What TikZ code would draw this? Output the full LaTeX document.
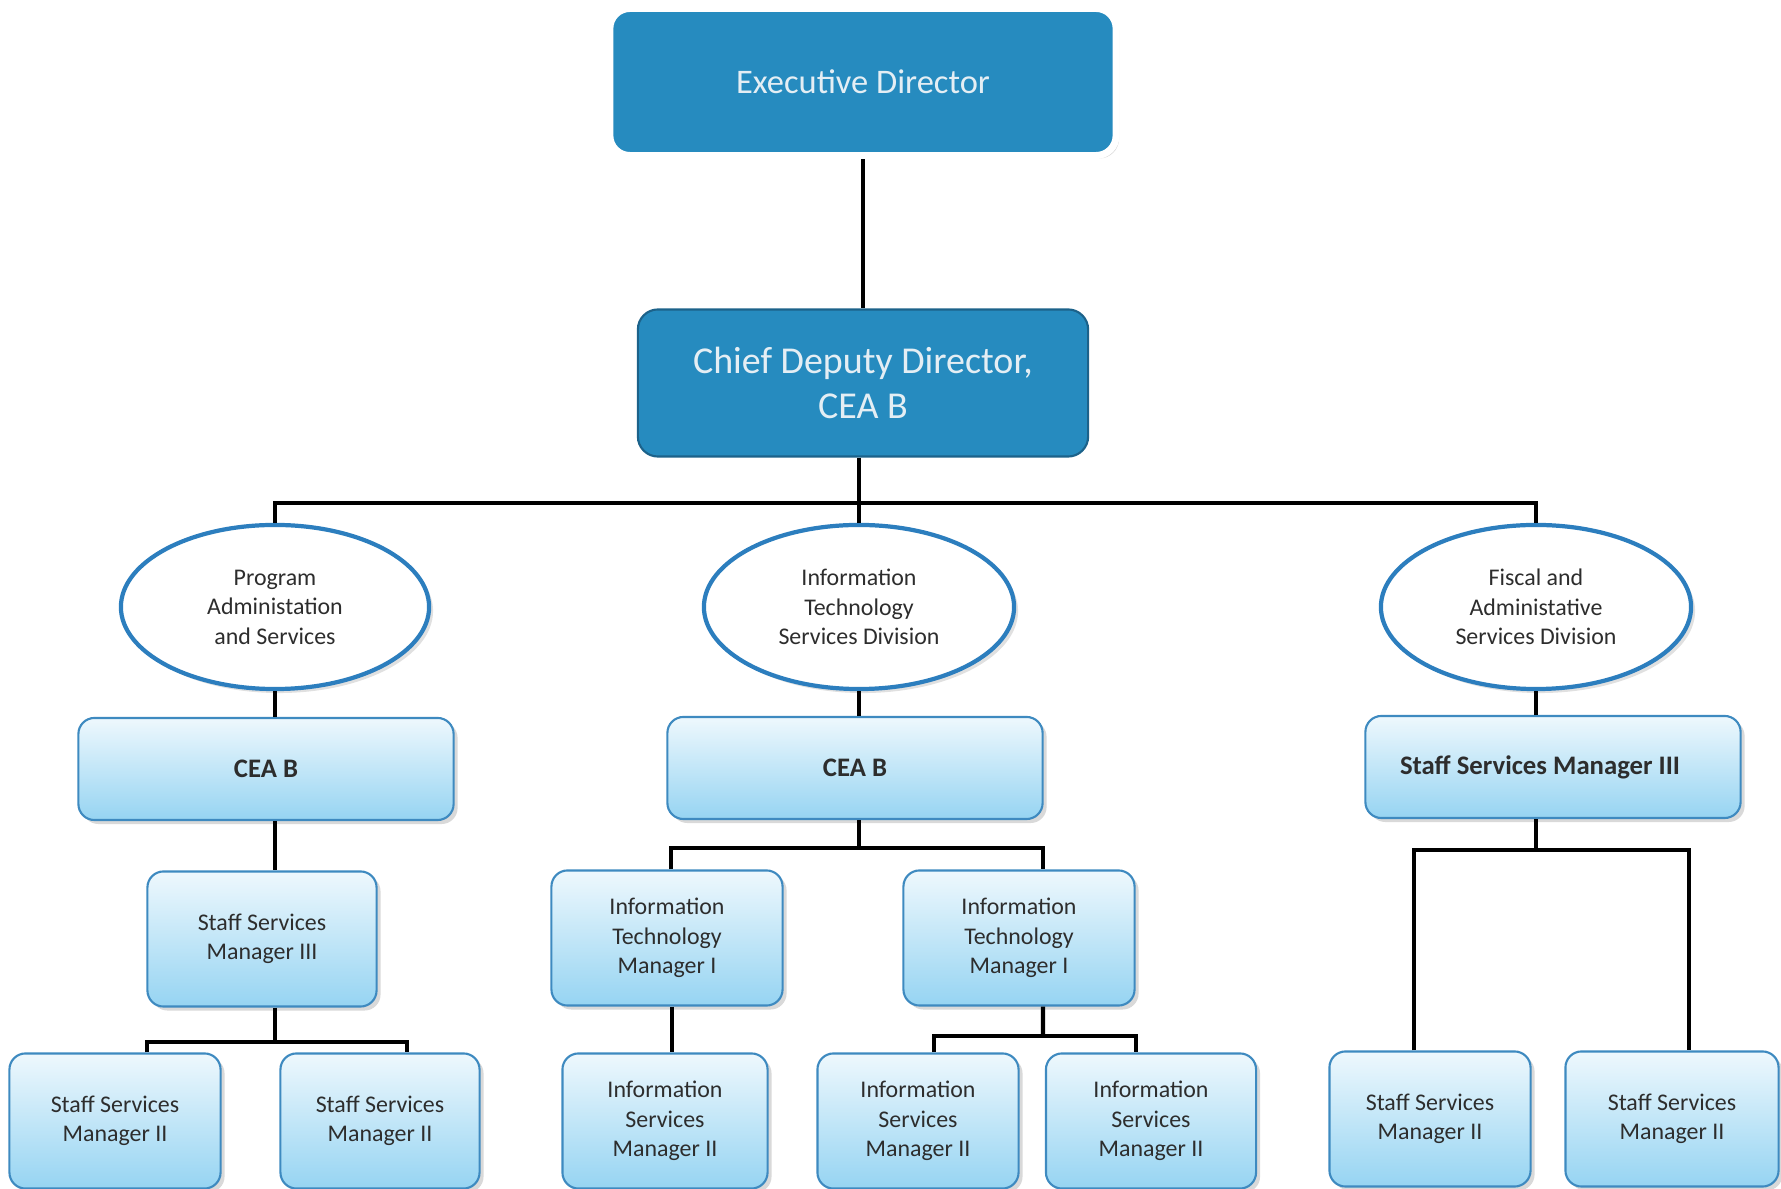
\documentclass[tikz,border=0pt]{standalone}
\usepackage{fontspec}
\setmainfont{Carlito}
\usetikzlibrary{shapes.geometric,shadows}
\definecolor{deptblue}{RGB}{38,139,191}
\definecolor{deptedge}{RGB}{28,98,138}
\definecolor{unitedge}{RGB}{62,138,192}
\definecolor{unittop}{RGB}{238,248,253}
\definecolor{unitbot}{RGB}{150,212,242}
\definecolor{ovaledge}{RGB}{44,126,190}
\definecolor{inkgray}{RGB}{45,45,45}
\definecolor{paletext}{RGB}{228,238,244}

\tikzset{
  conn/.style={draw=black, line width=1.2pt},
  deptbox/.style={rectangle, rounded corners=0.2cm, fill=deptblue,
    text=paletext, align=center, inner sep=0pt},
  unitbox/.style={rectangle, rounded corners=0.16cm, draw=unitedge,
    line width=0.6pt, top color=unittop, bottom color=unitbot,
    text=inkgray, align=center, inner sep=0pt,
    drop shadow={shadow xshift=0.04cm, shadow yshift=-0.04cm,
      opacity=0.25, fill=black!60}},
  ovalbox/.style={ellipse, draw=ovaledge, line width=1.2pt, fill=white,
    text=inkgray, align=center, inner sep=0pt,
    drop shadow={shadow xshift=0.04cm, shadow yshift=-0.04cm,
      opacity=0.2, fill=black!60}},
  smalltxt/.style={font=\fontsize{6.8}{8.4}\selectfont},
  boldtxt/.style={font=\fontsize{7.6}{9}\selectfont\bfseries},
}

\begin{document}
\begin{tikzpicture}[x=0.01cm, y=-0.01cm]
  \useasboundingbox (0,0) rectangle (1781,1189);

  % Top of the chart
  \node[deptbox, draw=white, line width=2pt, minimum width=5.06cm, minimum height=1.47cm,
    font=\fontsize{9.8}{11}\selectfont,
    drop shadow={shadow xshift=0.03cm, shadow yshift=-0.03cm, opacity=0.3, fill=black!50}]
    (ed) at (863,82) {Executive Director};
  \node[deptbox, draw=deptedge, line width=0.6pt, minimum width=4.5cm, minimum height=1.47cm,
    font=\fontsize{10.8}{12.8}\selectfont]
    (cdd) at (863,383) {Chief Deputy Director,\\CEA B};

  % Divisions
  \node[ovalbox, smalltxt, minimum width=3.08cm, minimum height=1.64cm]
    (pas) at (275,607) {Program\\Administation\\and Services};
  \node[ovalbox, smalltxt, minimum width=3.1cm, minimum height=1.64cm]
    (its) at (859,607) {Information\\Technology\\Services Division};
  \node[ovalbox, smalltxt, minimum width=3.1cm, minimum height=1.64cm]
    (fas) at (1536,607) {Fiscal and\\Administative\\Services Division};

  % Division heads
  \node[unitbox, boldtxt, minimum width=3.75cm, minimum height=1.02cm]
    (ceal) at (266,769) {CEA B};
  \node[unitbox, boldtxt, minimum width=3.75cm, minimum height=1.02cm]
    (ceam) at (855,768) {CEA B};
  \node[unitbox, boldtxt, minimum width=3.75cm, minimum height=1.02cm]
    (ssm3r) at (1553,767) {Staff Services Manager III\hspace*{0.26cm}};

  % Middle managers
  \node[unitbox, smalltxt, minimum width=2.29cm, minimum height=1.35cm]
    (ssm3l) at (262,939) {Staff Services\\Manager III};
  \node[unitbox, smalltxt, minimum width=2.31cm, minimum height=1.35cm]
    (itma) at (667,938) {Information\\Technology\\Manager I};
  \node[unitbox, smalltxt, minimum width=2.31cm, minimum height=1.35cm]
    (itmb) at (1019,938) {Information\\Technology\\Manager I};

  % Bottom row
  \node[unitbox, smalltxt, minimum width=2.11cm, minimum height=1.35cm]
    (ssm2a) at (115,1121) {Staff Services\\Manager II};
  \node[unitbox, smalltxt, minimum width=1.99cm, minimum height=1.35cm]
    (ssm2b) at (380,1121) {Staff Services\\Manager II};
  \node[unitbox, smalltxt, minimum width=2.05cm, minimum height=1.35cm]
    (isma) at (665,1121) {Information\\Services\\Manager II};
  \node[unitbox, smalltxt, minimum width=2.01cm, minimum height=1.35cm]
    (ismb) at (918,1121) {Information\\Services\\Manager II};
  \node[unitbox, smalltxt, minimum width=2.1cm, minimum height=1.35cm]
    (ismc) at (1151,1121) {Information\\Services\\Manager II};
  \node[unitbox, smalltxt, minimum width=2.01cm, minimum height=1.35cm]
    (ssm2c) at (1430,1119) {Staff Services\\Manager II};
  \node[unitbox, smalltxt, minimum width=2.13cm, minimum height=1.35cm]
    (ssm2d) at (1672,1119) {Staff Services\\Manager II};

  % Bus junctions
  \coordinate (busa) at (859,503);
  \coordinate (busl) at (275,1042);
  \coordinate (busm) at (859,848);
  \coordinate (busr) at (1043,1036);
  \coordinate (busf) at (1536,850);

  % Connectors
  \draw[conn] (ed) -- (cdd);
  \draw[conn] (cdd.south -| busa) -- (busa);
  \draw[conn] (pas.north) |- (busa) -| (fas.north);
  \draw[conn] (busa) -- (its.north);

  \draw[conn] (pas) -- (pas |- ceal.north);
  \draw[conn] (ceal.south -| pas) -- (ssm3l.north -| pas);
  \draw[conn] (ssm3l.south -| pas) -- (busl);
  \draw[conn] ([xshift=0.32cm]ssm2a.north) |- (busl) -| ([xshift=0.27cm]ssm2b.north);

  \draw[conn] (its) -- (its |- ceam.north);
  \draw[conn] (ceam.south -| its) -- (busm);
  \draw[conn] ([xshift=0.04cm]itma.north) |- (busm) -| ([xshift=0.24cm]itmb.north);
  \draw[conn] ([xshift=0.05cm]itma.south) -- ([xshift=0.05cm]itma.south |- isma.north);
  \draw[conn] ([xshift=0.24cm]itmb.south) -- (busr);
  \draw[conn] ([xshift=0.16cm]ismb.north) |- (busr) -| ([xshift=-0.15cm]ismc.north);

  \draw[conn] (fas) -- (fas |- ssm3r.north);
  \draw[conn] (ssm3r.south -| fas) -- (busf);
  \draw[conn] ([xshift=-0.16cm]ssm2c.north) |- (busf) -| ([xshift=0.17cm]ssm2d.north);
\end{tikzpicture}
\end{document}
